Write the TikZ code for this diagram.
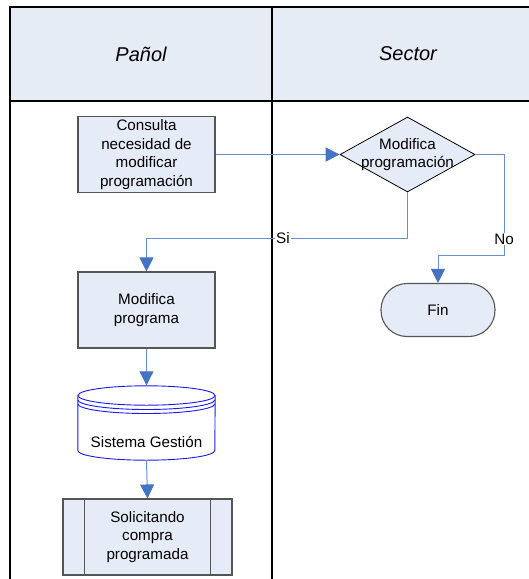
\documentclass[tikz,border=0pt]{standalone}
\usepackage{fontspec}
\setmainfont{Liberation Sans}
\usetikzlibrary{arrows.meta,shapes.geometric}

\definecolor{lanefill}{HTML}{E6ECF6}
\definecolor{boxfill}{HTML}{E6ECF7}
\definecolor{boxline}{HTML}{555555}
\definecolor{flowline}{HTML}{6690D0}
\definecolor{flowhead}{HTML}{4472C4}
\definecolor{dbline}{HTML}{1A1AF0}

\tikzset{
  txt/.style={font=\fontsize{15.2}{18.4}\selectfont, align=center, inner sep=0pt},
  procbox/.style={txt, draw=boxline, line width=1.1pt, fill=boxfill,
    minimum width=137pt, minimum height=76pt},
  decision/.style={diamond, draw=black, line width=0.8pt, fill=boxfill, inner sep=0pt,
    minimum width=135pt, minimum height=75pt},
  terminal/.style={txt, draw=boxline, line width=1.1pt, fill=boxfill,
    rounded corners=26pt, minimum width=114pt, minimum height=53pt},
  subproc/.style={txt, draw=boxline, line width=1.1pt, fill=boxfill,
    minimum width=169pt, minimum height=76pt},
  dbbody/.style={inner sep=0pt, minimum width=137pt, minimum height=75pt},
  flow/.style={draw=flowline, line width=1pt,
    -{Triangle[length=14pt,width=14pt,fill=flowhead,color=flowhead]}},
  branch/.style={txt, fill=white, inner sep=1pt},
  lane/.style={line width=2pt, draw=black},
  lanetitle/.style={font=\fontsize{20}{24}\selectfont\itshape}
}

\begin{document}
\begin{tikzpicture}[x=1pt,y=-1pt]
  \useasboundingbox (0,0) rectangle (529,579);

  % swimlane frame and headers
  \fill[lanefill] (10,7) rectangle (529,101);
  \draw[lane] (529,7) -- (10,7) -- (10,579);
  \draw[lane] (10,101) -- (529,101);
  \draw[lane] (272,7) -- (272,579);
  \node[lanetitle] (hpanol) at (141,54) {Pañol};
  \node[lanetitle] (hsector) at (408,54) {Sector};

  % steps
  \node[procbox] (cons) at (146.5,154.5) {Consulta\\necesidad de\\modificar\\programación};
  \node[decision, label={[txt]center:Modifica\\programación}] (dec) at (407.5,154.5) {};
  \node[procbox] (modp) at (146.5,310) {Modifica\\programa};
  \node[terminal] (fin) at (438,310) {Fin};

  % database cylinder
  \node[dbbody] (sg) at (146.5,423) {};
  \fill[white] (sg.west |- 0,395.5) arc[start angle=180, end angle=360, x radius=68.5, y radius=9.7]
    -- (sg.east |- 0,450.5) arc[start angle=0, end angle=180, x radius=68.5, y radius=-9.7] -- cycle;
  \draw[dbline, line width=0.9pt]
    (sg.west |- 0,395.5) -- (sg.west |- 0,450.5)
    arc[start angle=180, end angle=360, x radius=68.5, y radius=-9.7]
    -- (sg.east |- 0,395.5);
  \draw[dbline, line width=0.9pt] (146.5,395.5) ellipse[x radius=68.5, y radius=9.7];
  \draw[dbline, line width=0.9pt] (sg.west |- 0,399.8)
    arc[start angle=180, end angle=360, x radius=68.5, y radius=-9.7];
  \draw[dbline, line width=0.9pt] (sg.west |- 0,403.8)
    arc[start angle=180, end angle=360, x radius=68.5, y radius=-9.7];
  \node[txt] (sgtext) at (146.5,442) {Sistema Gestión};

  % predefined process
  \node[subproc] (sol) at (147.5,537) {Solicitando\\compra\\programada};
  \draw[boxline, line width=1.1pt] ([xshift=22pt]sol.north west) -- ([xshift=22pt]sol.south west);
  \draw[boxline, line width=1.1pt] ([xshift=-22pt]sol.north east) -- ([xshift=-22pt]sol.south east);

  % connectors
  \draw[flow] (cons.east) -- (dec.west);
  \draw[flow] (dec.south) -- (dec.south |- 0,238) -- (modp.north |- 0,238) -- (modp.north);
  \node[branch] (si) at (283,238) {Si};
  \draw[flow] (dec.east) -- (504,154.5) -- (504,255) -- (fin.north |- 0,255) -- (fin.north);
  \node[branch] (no) at (504,239) {No};
  \draw[flow] (modp.south) -- (sg.north);
  \draw[flow] (sg.south) -- (sol.north);
\end{tikzpicture}
\end{document}
